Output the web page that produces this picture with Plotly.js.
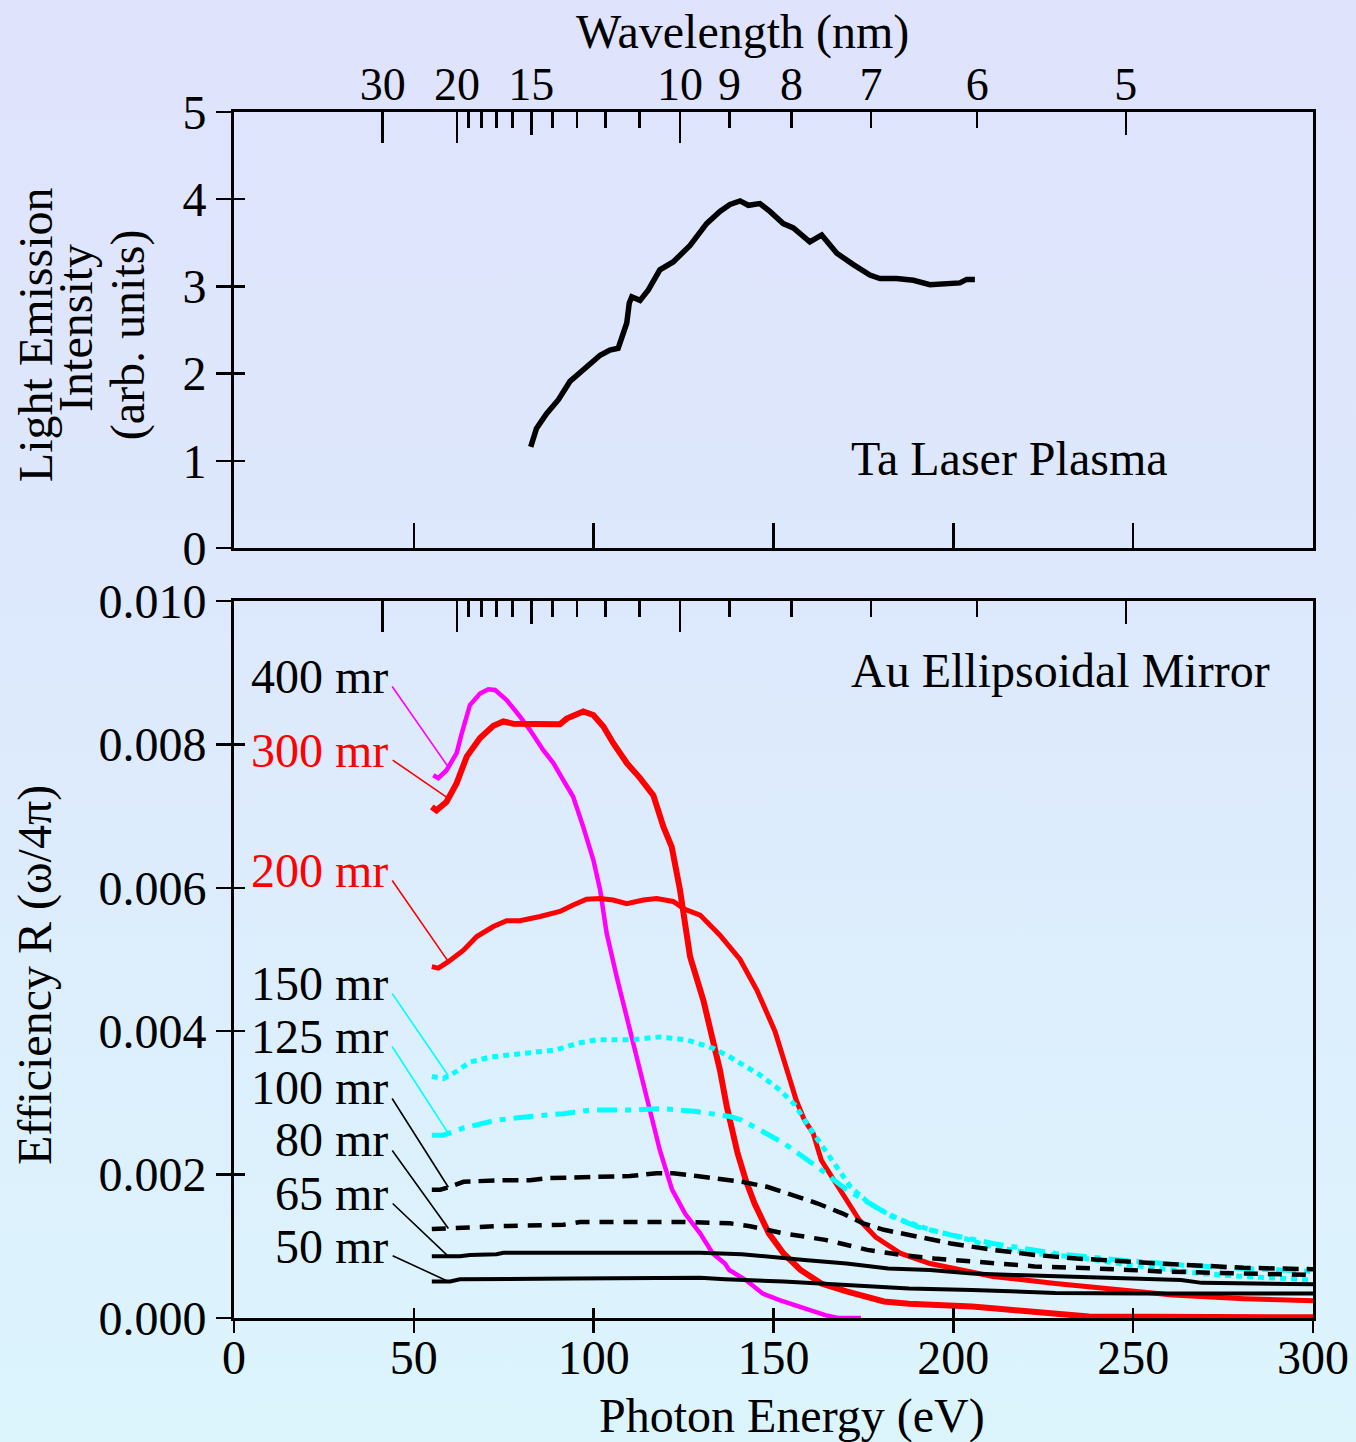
<!DOCTYPE html>
<html>
<head>
<meta charset="utf-8">
<script src="https://cdn.plot.ly/plotly-3.0.1.min.js"></script>
<style>
html, body { margin: 0; padding: 0; }
body { width: 1356px; height: 1442px; background: linear-gradient(180deg, #dfe3fc 0%, #dde9fc 45%, #dcf5fd 100%); }
#chart { width: 1356px; height: 1442px; }
</style>
</head>
<body>
<div id="chart"></div>
<script>
// ---------- data ----------
const xTicks = [0, 50, 100, 150, 200, 250, 300];
const topBottomTicks = [50, 100, 150, 200, 250];
const yTicksTop = [0, 1, 2, 3, 4, 5];
const yTicksBot = [0, 0.002, 0.004, 0.006, 0.008, 0.010];
const yTickTextBot = ['0.000', '0.002', '0.004', '0.006', '0.008', '0.010'];

const nmLabeled = [30, 20, 15, 10, 9, 8, 7, 6, 5];
const nmLong = [30, 20, 10];
const nmMedium = [15, 5];
const nmShort = [19, 18, 17, 16, 14, 13, 12, 11, 9, 8, 7, 6];
const nmMinor = [19, 18, 17, 16, 14, 13, 12, 11];

// Ta laser plasma emission
const taE = [82.5, 84.1, 86.9, 90.2, 93.4, 98.0, 101.8, 104.5, 106.8, 109.2, 109.9, 110.6, 112.9, 115.2, 118.4, 122.1, 126.8, 131.4, 135.1, 137.9, 140.7, 143.0, 146.2, 149.0, 152.7, 155.5, 160.1, 163.4, 167.6, 172.2, 176.8, 179.6, 184.2, 188.9, 193.5, 201.8, 203.7, 206.0];
const taI = [1.16, 1.37, 1.54, 1.70, 1.91, 2.08, 2.21, 2.27, 2.29, 2.58, 2.81, 2.88, 2.84, 2.96, 3.19, 3.28, 3.47, 3.72, 3.86, 3.94, 3.98, 3.93, 3.95, 3.86, 3.72, 3.67, 3.51, 3.59, 3.38, 3.25, 3.13, 3.09, 3.09, 3.07, 3.02, 3.04, 3.08, 3.08];

// Au ellipsoidal mirror efficiency
const m400E = [55.4, 56.8, 59.1, 61.9, 63.3, 65.6, 68.4, 70.7, 72.6, 75.8, 79.5, 82.3, 86.0, 88.8, 91.6, 94.3, 97.1, 99.9, 101.8, 103.6, 106.4, 109.6, 112.5, 115.7, 118.4, 121.8, 125.5, 129.6, 133.1, 136.5, 137.7, 142.3, 147.0, 151.7, 158.6, 164.4, 167.9, 174.3];
const m400R = [0.00757, 0.00753, 0.00764, 0.00788, 0.00815, 0.00855, 0.00871, 0.00877, 0.00876, 0.00862, 0.00839, 0.00820, 0.00792, 0.00774, 0.00750, 0.00727, 0.00685, 0.00639, 0.00597, 0.00537, 0.00476, 0.00411, 0.00350, 0.00290, 0.00234, 0.00179, 0.00145, 0.00118, 0.00090, 0.00076, 0.00067, 0.00053, 0.00034, 0.00025, 0.000135, 0.00004, 0.0, 0.0];

const r300E = [55.0, 56.3, 59.1, 61.9, 64.7, 68.4, 72.1, 74.9, 77.6, 90.6, 92.5, 97.1, 99.9, 102.7, 105.4, 109.2, 112.9, 116.6, 119.4, 121.7, 124.0, 125.4, 126.8, 130.5, 133.3, 135.1, 137.0, 140.0, 142.3, 144.7, 148.7, 152.8, 157.5, 163.3, 170.3, 176.1, 180.7, 187.7, 199.3, 205.2, 211.0, 234.2, 237.7, 300.0];
const r300R = [0.00713, 0.00708, 0.00720, 0.00746, 0.00783, 0.00809, 0.00826, 0.00832, 0.00829, 0.00828, 0.00836, 0.00846, 0.00841, 0.00825, 0.00802, 0.00774, 0.00753, 0.00729, 0.00685, 0.00657, 0.00597, 0.00546, 0.00504, 0.00443, 0.00383, 0.00346, 0.00295, 0.00230, 0.00192, 0.00160, 0.00118, 0.00090, 0.00067, 0.00048, 0.00037, 0.00030, 0.00023, 0.00020, 0.00018, 0.00016, 0.000135, 0.00004, 0.00002, 0.00001];

const r200E = [55.0, 56.8, 59.6, 63.8, 67.5, 72.1, 75.8, 79.5, 85.1, 90.6, 94.3, 98.0, 101.8, 105.4, 109.2, 113.8, 117.5, 122.1, 125.4, 129.6, 135.1, 140.7, 145.4, 150.4, 154.6, 156.3, 158.6, 161.0, 163.3, 167.9, 173.8, 178.4, 185.4, 193.5, 211.0, 228.4, 245.9, 261.0, 280.8, 300.0];
const r200R = [0.00490, 0.00488, 0.00497, 0.00513, 0.00532, 0.00546, 0.00554, 0.00554, 0.00560, 0.00567, 0.00576, 0.00584, 0.00585, 0.00583, 0.00578, 0.00583, 0.00585, 0.00581, 0.00570, 0.00562, 0.00534, 0.00500, 0.00457, 0.00400, 0.00332, 0.00304, 0.00276, 0.00258, 0.00220, 0.00183, 0.00137, 0.00113, 0.00090, 0.00076, 0.00058, 0.00048, 0.00039, 0.00032, 0.00027, 0.00024];

const c150E = [55.0, 58.2, 61.9, 65.6, 71.2, 80.4, 89.7, 95.3, 100.8, 110.1, 118.4, 125.9, 133.3, 137.9, 146.2, 151.8, 156.0, 159.8, 164.4, 167.9, 171.4, 176.1, 179.6, 185.4, 193.5, 201.7, 211.0, 222.6, 234.2, 245.9, 257.5, 269.1, 280.8, 300.0];
const c150R = [0.00337, 0.00334, 0.00344, 0.00357, 0.00364, 0.00369, 0.00374, 0.00383, 0.00388, 0.00388, 0.00392, 0.00388, 0.00376, 0.00364, 0.00339, 0.00318, 0.00297, 0.00267, 0.00234, 0.00206, 0.00183, 0.00162, 0.00151, 0.00137, 0.00123, 0.00113, 0.00099, 0.00090, 0.00085, 0.00076, 0.00069, 0.00062, 0.00058, 0.00053];

const c125E = [55.0, 58.2, 63.8, 73.0, 82.3, 91.6, 99.0, 110.1, 119.4, 128.6, 137.9, 141.2, 152.8, 162.1, 170.3, 176.1, 183.1, 190.1, 199.3, 211.0, 228.4, 245.9, 263.3, 280.8, 300.0];
const c125R = [0.00255, 0.00255, 0.00265, 0.00276, 0.00281, 0.00285, 0.00290, 0.00290, 0.00292, 0.00288, 0.00281, 0.00276, 0.00244, 0.00211, 0.00179, 0.00162, 0.00141, 0.00127, 0.00116, 0.00104, 0.00090, 0.00081, 0.00074, 0.00069, 0.00065];

const k100E = [55.0, 57.3, 60.1, 63.8, 73.0, 82.3, 86.9, 100.8, 110.1, 117.5, 122.1, 128.6, 135.4, 141.2, 148.2, 155.1, 162.1, 169.1, 174.9, 180.7, 187.7, 199.3, 211.0, 222.6, 234.2, 245.9, 257.5, 269.1, 280.8, 300.0];
const k100R = [0.00179, 0.00179, 0.00183, 0.00190, 0.00192, 0.00192, 0.00195, 0.00197, 0.00198, 0.00202, 0.00202, 0.00198, 0.00193, 0.00190, 0.00183, 0.00172, 0.00160, 0.00146, 0.00132, 0.00123, 0.00116, 0.00104, 0.00095, 0.00088, 0.00083, 0.00079, 0.00076, 0.00073, 0.00070, 0.00068];

const k80E = [55.0, 60.1, 73.0, 91.6, 96.2, 110.1, 124.0, 137.9, 143.5, 152.8, 164.4, 176.1, 185.4, 194.7, 211.0, 222.6, 240.1, 257.5, 280.8, 300.0];
const k80R = [0.00124, 0.00125, 0.00128, 0.00130, 0.00134, 0.00134, 0.00134, 0.00132, 0.00128, 0.00118, 0.00109, 0.00095, 0.00088, 0.00083, 0.00076, 0.00072, 0.00069, 0.00065, 0.00062, 0.00060];

const k65E = [55.0, 62.8, 65.6, 73.0, 74.9, 96.2, 98.0, 129.6, 141.2, 147.0, 158.6, 170.3, 181.9, 193.5, 205.2, 216.8, 228.4, 245.9, 263.3, 269.1, 300.0];
const k65R = [0.00086, 0.00086, 0.00088, 0.00089, 0.00091, 0.00091, 0.00092, 0.00091, 0.00089, 0.00086, 0.00081, 0.00076, 0.00069, 0.00067, 0.00062, 0.00060, 0.00058, 0.00055, 0.00053, 0.00049, 0.00047];

const k50E = [55.0, 60.1, 62.8, 91.6, 94.3, 129.6, 136.5, 152.8, 170.3, 187.7, 205.2, 228.4, 251.7, 300.0];
const k50R = [0.00051, 0.00051, 0.00054, 0.00054, 0.00055, 0.00056, 0.00054, 0.00051, 0.00046, 0.00041, 0.00039, 0.00035, 0.00034, 0.00034];

const seriesNames = ['400 mr', '300 mr', '200 mr', '150 mr', '125 mr', '100 mr', '80 mr', '65 mr', '50 mr'];
const labelY = [0.008954, 0.007922, 0.006248, 0.004672, 0.003933, 0.003208, 0.002483, 0.001743, 0.001004];

// ---------- helpers ----------
const HC = 1239.84; // eV*nm
const nm2eV = arr => arr.map(l => HC / l);
function interp(xs, ys, x) {
  for (let i = 0; i < xs.length - 1; i++) {
    if (x >= xs[i] && x <= xs[i + 1]) {
      const t = (x - xs[i]) / (xs[i + 1] - xs[i]);
      return ys[i] + t * (ys[i + 1] - ys[i]);
    }
  }
  return ys[0];
}

const FONT = 'Liberation Serif, Times New Roman, serif';
const tickFont = { family: FONT, size: 48, color: '#000' };

const series = [
  { x: m400E, y: m400R, color: '#ff00ff', width: 4.5, dash: 'solid', lineColor: '#ff00ff', textColor: '#000' },
  { x: r300E, y: r300R, color: '#ff0000', width: 6, dash: 'solid', lineColor: '#ff0000', textColor: '#ff0000' },
  { x: r200E, y: r200R, color: '#ff0000', width: 5, dash: 'solid', lineColor: '#ff0000', textColor: '#ff0000' },
  { x: c150E, y: c150R, color: '#00ffff', width: 5, dash: '6px,5px', lineColor: '#00ffff', textColor: '#000' },
  { x: c125E, y: c125R, color: '#00ffff', width: 5, dash: '20px,8px,6px,8px', lineColor: '#00ffff', textColor: '#000' },
  { x: k100E, y: k100R, color: '#000', width: 4.5, dash: '16px,8px', lineColor: '#000', textColor: '#000' },
  { x: k80E, y: k80R, color: '#000', width: 4.5, dash: '14px,10px', lineColor: '#000', textColor: '#000' },
  { x: k65E, y: k65R, color: '#000', width: 4, dash: 'solid', lineColor: '#000', textColor: '#000' },
  { x: k50E, y: k50R, color: '#000', width: 4, dash: 'solid', lineColor: '#000', textColor: '#000' }
];

const traces = [];
traces.push({
  x: taE, y: taI, xaxis: 'x2', yaxis: 'y2', mode: 'lines', type: 'scatter',
  line: { color: '#000', width: 5.5 }, hoverinfo: 'skip', showlegend: false
});
series.forEach((s, i) => {
  traces.push({
    x: s.x, y: s.y, xaxis: 'x', yaxis: 'y', mode: 'lines', type: 'scatter', name: seriesNames[i],
    line: { color: s.color, width: s.width, dash: s.dash }, hoverinfo: 'skip', showlegend: false
  });
});
// empty traces so the overlaid tick-only axes get drawn
[['x8', 'y'], ['x', 'y3'], ['x2', 'y4'], ['x3', 'y2'], ['x4', 'y2'], ['x5', 'y'], ['x6', 'y']].forEach(p => {
  traces.push({ x: [], y: [], xaxis: p[0], yaxis: p[1], type: 'scatter', mode: 'lines', hoverinfo: 'skip', showlegend: false });
});

const annotations = [];
const labelRightX = 43.4;
const arrowX = 59.6;
const leaderOffset = 0.000126;
series.forEach((s, i) => {
  annotations.push({
    x: labelRightX, y: labelY[i], xref: 'x', yref: 'y', text: seriesNames[i], showarrow: false,
    xanchor: 'right', yanchor: 'middle', font: { family: FONT, size: 48, color: s.textColor }
  });
  annotations.push({
    x: arrowX, y: interp(s.x, s.y, arrowX), xref: 'x', yref: 'y',
    axref: 'x', ayref: 'y', ax: labelRightX + 0.3, ay: labelY[i] - leaderOffset,
    text: '', showarrow: true, arrowhead: 0, arrowwidth: 1.6, arrowcolor: s.lineColor,
    standoff: 0, startstandoff: 0
  });
});

// text annotations
annotations.push({ x: 0.570, y: 0.7131, xref: 'paper', yref: 'paper', text: 'Ta Laser Plasma', showarrow: false, xanchor: 'left', yanchor: 'middle', font: { family: FONT, size: 48, color: '#000' } });
annotations.push({ x: 0.570, y: 0.5373, xref: 'paper', yref: 'paper', text: 'Au Ellipsoidal Mirror', showarrow: false, xanchor: 'left', yanchor: 'middle', font: { family: FONT, size: 48, color: '#000' } });
annotations.push({ x: 0.4717, y: 1.0663, xref: 'paper', yref: 'paper', text: 'Wavelength (nm)', showarrow: false, xanchor: 'center', yanchor: 'middle', font: { family: FONT, size: 48, color: '#000' } });
annotations.push({ x: 0.517, y: -0.0815, xref: 'paper', yref: 'paper', text: 'Photon Energy (eV)', showarrow: false, xanchor: 'center', yanchor: 'middle', font: { family: FONT, size: 48, color: '#000' } });
annotations.push({ x: -0.1844, y: 0.815, xref: 'paper', yref: 'paper', text: 'Light Emission', textangle: -90, showarrow: false, xanchor: 'center', yanchor: 'middle', font: { family: FONT, size: 48, color: '#000' } });
annotations.push({ x: -0.1464, y: 0.821, xref: 'paper', yref: 'paper', text: 'Intensity', textangle: -90, showarrow: false, xanchor: 'center', yanchor: 'middle', font: { family: FONT, size: 48, color: '#000' } });
annotations.push({ x: -0.0982, y: 0.815, xref: 'paper', yref: 'paper', text: '(arb. units)', textangle: -90, showarrow: false, xanchor: 'center', yanchor: 'middle', font: { family: FONT, size: 48, color: '#000' } });
annotations.push({ x: -0.1844, y: 0.2844, xref: 'paper', yref: 'paper', text: 'Efficiency R (ω/4π)', textangle: -90, showarrow: false, xanchor: 'center', yanchor: 'middle', font: { family: FONT, size: 48, color: '#000' } });

const base = { showgrid: false, zeroline: false, tickcolor: '#000', tickwidth: 2.5, tickfont: tickFont, range: [0, 300], tickmode: 'array' };

const layout = {
  width: 1356, height: 1442,
  margin: { l: 234, r: 43, t: 112, b: 124, pad: 0 },
  paper_bgcolor: 'rgba(0,0,0,0)', plot_bgcolor: 'rgba(0,0,0,0)',
  showlegend: false,
  font: { family: FONT, size: 48, color: '#000' },
  // bottom panel x axis (labels + inside part of crossing ticks)
  xaxis: Object.assign({}, base, {
    domain: [0, 1], anchor: 'y', tickvals: xTicks, ticktext: xTicks.map(String),
    ticks: 'inside', ticklen: 10, ticklabelstandoff: -5, showline: true, linewidth: 3, linecolor: '#000', mirror: true
  }),
  // outside part of crossing ticks
  xaxis8: Object.assign({}, base, {
    overlaying: 'x', anchor: 'y', tickvals: xTicks, ticks: 'outside', ticklen: 14, showticklabels: false, showline: false
  }),
  // top panel bottom axis
  xaxis2: Object.assign({}, base, {
    domain: [0, 1], anchor: 'y2', tickvals: topBottomTicks, ticks: 'inside', ticklen: 25,
    showticklabels: false, showline: true, linewidth: 3, linecolor: '#000', mirror: true
  }),
  // wavelength axis, top panel (labels + short ticks)
  xaxis3: Object.assign({}, base, {
    overlaying: 'x2', anchor: 'y2', side: 'top', tickvals: nm2eV(nmLabeled), ticktext: nmLabeled.map(String),
    ticks: 'inside', ticklen: 16, showline: false, ticklabelstandoff: 2,
    tickfont: { family: FONT, size: 46, color: '#000' },
    minor: { tickmode: 'array', tickvals: nm2eV(nmMinor), ticks: 'inside', ticklen: 16, tickwidth: 2.5, tickcolor: '#000', showgrid: false }
  }),
  // wavelength axis, top panel (long + medium ticks)
  xaxis4: Object.assign({}, base, {
    overlaying: 'x2', anchor: 'y2', side: 'top', tickvals: nm2eV(nmLong), ticks: 'inside', ticklen: 31,
    showticklabels: false, showline: false,
    minor: { tickmode: 'array', tickvals: nm2eV(nmMedium), ticks: 'inside', ticklen: 23, tickwidth: 2.5, tickcolor: '#000', showgrid: false }
  }),
  // wavelength ticks, bottom panel top edge
  xaxis5: Object.assign({}, base, {
    overlaying: 'x', anchor: 'y', side: 'top', tickvals: nm2eV(nmLong), ticks: 'inside', ticklen: 31,
    showticklabels: false, showline: false,
    minor: { tickmode: 'array', tickvals: nm2eV(nmShort), ticks: 'inside', ticklen: 16, tickwidth: 2.5, tickcolor: '#000', showgrid: false }
  }),
  xaxis6: Object.assign({}, base, {
    overlaying: 'x', anchor: 'y', side: 'top', tickvals: nm2eV(nmMedium), ticks: 'inside', ticklen: 23,
    showticklabels: false, showline: false
  }),
  yaxis: {
    domain: [0, 0.5945], anchor: 'x', range: [0, 0.010], tickmode: 'array', tickvals: yTicksBot, ticktext: yTickTextBot,
    ticks: 'outside', ticklen: 15, tickwidth: 2.5, tickcolor: '#000', tickfont: tickFont,
    showline: true, linewidth: 3, linecolor: '#000', mirror: true, showgrid: false, zeroline: false
  },
  yaxis3: {
    overlaying: 'y', anchor: 'x', range: [0, 0.010], tickmode: 'array', tickvals: yTicksBot,
    ticks: 'inside', ticklen: 11, tickwidth: 2.5, tickcolor: '#000', showticklabels: false,
    showline: false, showgrid: false, zeroline: false
  },
  yaxis2: {
    domain: [0.6385, 1], anchor: 'x2', range: [0, 5], tickmode: 'array', tickvals: yTicksTop, ticktext: yTicksTop.map(String),
    ticks: 'outside', ticklen: 15, tickwidth: 2.5, tickcolor: '#000', tickfont: tickFont,
    showline: true, linewidth: 3, linecolor: '#000', mirror: true, showgrid: false, zeroline: false
  },
  yaxis4: {
    overlaying: 'y2', anchor: 'x2', range: [0, 5], tickmode: 'array', tickvals: yTicksTop,
    ticks: 'inside', ticklen: 11, tickwidth: 2.5, tickcolor: '#000', showticklabels: false,
    showline: false, showgrid: false, zeroline: false
  },
  annotations: annotations
};

Plotly.newPlot('chart', traces, layout, { staticPlot: true, displayModeBar: false });
</script>
</body>
</html>
